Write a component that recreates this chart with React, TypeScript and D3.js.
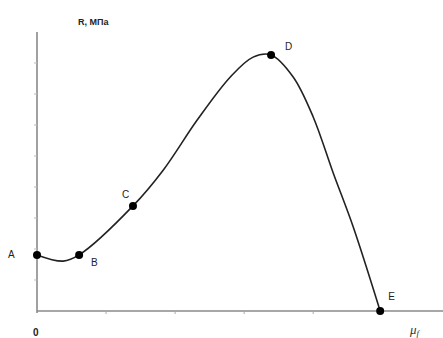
import React, { useEffect, useRef } from "react";
import * as d3 from "d3";

// curve: mu_f (x) vs R, MPa (y), in tick units
const curveX = [0, 0.38, 0.61, 1.39, 1.83, 2.32, 2.8, 3.13, 3.39, 3.71, 4.0, 4.29, 4.58, 4.97];
const curveY = [1.81, 1.61, 1.81, 3.39, 4.55, 6.16, 7.55, 8.19, 8.26, 7.55, 6.26, 4.45, 2.71, 0];

const pointNames = ["A", "B", "C", "D", "E"];
const pointX = [0, 0.61, 1.39, 3.39, 4.97];
const pointY = [1.81, 1.81, 3.39, 8.26, 0];
const labelDx = [-29, 12, -11, 14, 8];
const labelDy = [3, 11, -8, -5, -11];

const xTicks = [1, 2, 3, 4, 5];
const yTicks = [1, 2, 3, 4, 5, 6, 7, 8];

const width = 443;
const height = 338;

const App = () => {
  const ref = useRef<SVGSVGElement>(null);

  useEffect(() => {
    const svg = d3.select(ref.current);
    svg.selectAll("*").remove();

    const x = d3.scaleLinear().domain([0, 5.88]).range([37, 443]);
    const y = d3.scaleLinear().domain([0, 9]).range([311, 32]);

    const axisColor = "#8a8a8a";

    // axes
    svg.append("line")
      .attr("x1", x(0)).attr("x2", x(0))
      .attr("y1", y(9)).attr("y2", y(0) + 2)
      .attr("stroke", axisColor).attr("stroke-width", 1.6);
    svg.append("line")
      .attr("x1", x(0)).attr("x2", x(5.88))
      .attr("y1", y(0)).attr("y2", y(0))
      .attr("stroke", axisColor).attr("stroke-width", 1.6);

    svg.selectAll(".yt")
      .data(yTicks)
      .join("line")
      .attr("x1", x(0) - 3).attr("x2", x(0))
      .attr("y1", (d) => y(d)).attr("y2", (d) => y(d))
      .attr("stroke", "#bbb").attr("stroke-width", 1);

    svg.selectAll(".xt")
      .data(xTicks)
      .join("line")
      .attr("x1", (d) => x(d)).attr("x2", (d) => x(d))
      .attr("y1", y(0)).attr("y2", y(0) + 3)
      .attr("stroke", "#aaa").attr("stroke-width", 1);

    const pts: [number, number][] = curveX.map((v, i) => [v, curveY[i]]);
    const line = d3.line<[number, number]>()
      .x((d) => x(d[0]))
      .y((d) => y(d[1]))
      .curve(d3.curveCatmullRom.alpha(0.5));

    svg.append("path")
      .attr("d", line(pts))
      .attr("fill", "none")
      .attr("stroke", "#222")
      .attr("stroke-width", 1.6);

    svg.selectAll("circle")
      .data(pointNames)
      .join("circle")
      .attr("cx", (_, i) => x(pointX[i]))
      .attr("cy", (_, i) => y(pointY[i]))
      .attr("r", 4)
      .attr("fill", "#000");

    svg.selectAll(".lbl")
      .data(pointNames)
      .join("text")
      .attr("x", (_, i) => x(pointX[i]) + labelDx[i])
      .attr("y", (_, i) => y(pointY[i]) + labelDy[i])
      .attr("font-family", "Arial, Liberation Sans, sans-serif")
      .attr("font-size", 10)
      .attr("fill", "#222")
      .text((d) => d);

    svg.append("text")
      .attr("x", 78).attr("y", 25)
      .attr("font-family", "Arial, Liberation Sans, sans-serif")
      .attr("font-size", 9).attr("font-weight", "bold")
      .attr("fill", "#222")
      .text("R, МПа");

    svg.append("text")
      .attr("x", 33).attr("y", 336)
      .attr("font-family", "Arial, Liberation Sans, sans-serif")
      .attr("font-size", 10).attr("font-weight", "bold")
      .attr("fill", "#222")
      .text("0");

    const mu = svg.append("text")
      .attr("x", 410).attr("y", 334)
      .attr("font-family", "Times New Roman, Liberation Serif, serif")
      .attr("font-style", "italic")
      .attr("font-size", 13)
      .attr("fill", "#333");
    mu.append("tspan").text("μ");
    mu.append("tspan").attr("font-size", 9).attr("dy", 2).text("f");
  }, []);

  return (
    <svg
      ref={ref}
      width={width}
      height={height}
      style={{ position: "absolute", left: 0, top: 0, background: "#fff" }}
    />
  );
};

export default App;
